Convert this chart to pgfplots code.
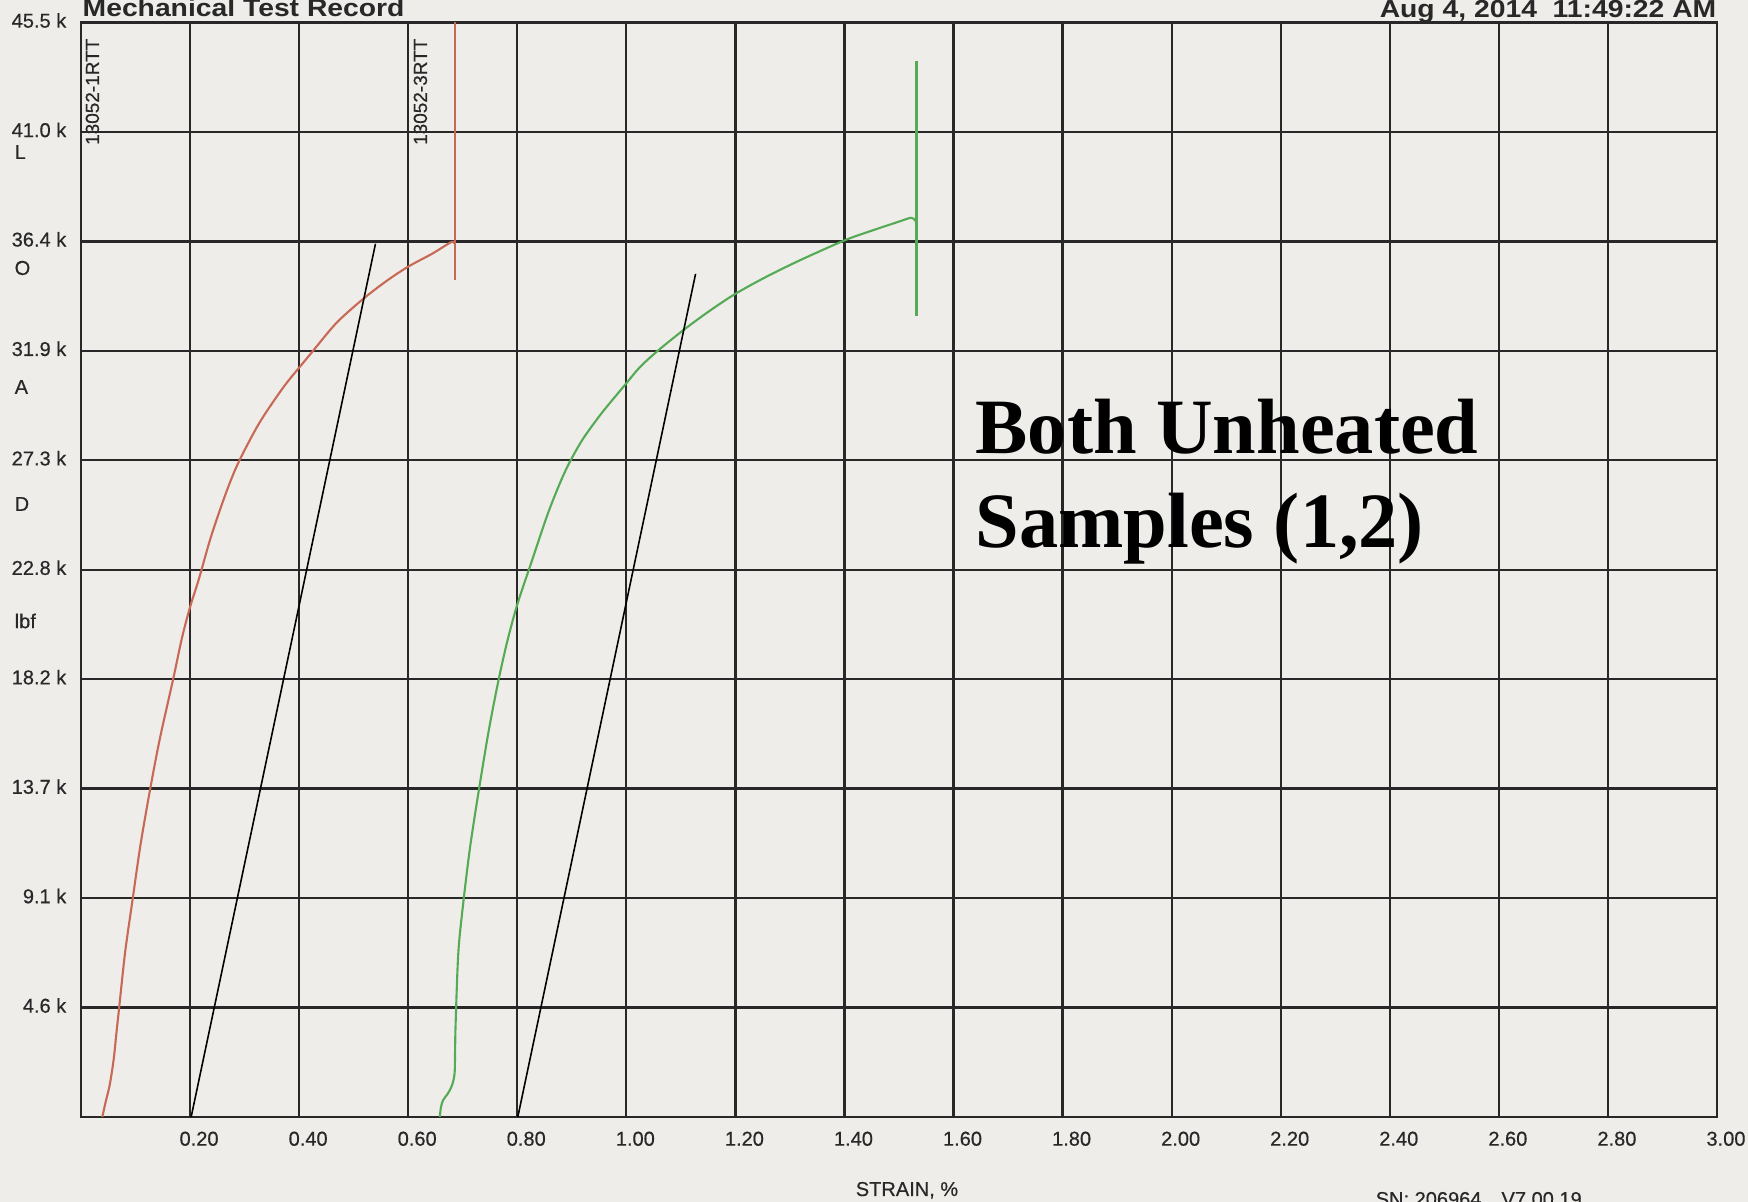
\documentclass[border=0pt]{standalone}
\usepackage{fontspec}
\setmainfont{Liberation Sans}
\newfontfamily\tickfont[FakeBold=0.5]{Liberation Sans}
\newfontfamily\hdrfont[FakeStretch=1.15]{Liberation Sans}
\newfontfamily\notefont{Liberation Serif}
\usepackage{pgfplots}
\pgfplotsset{compat=1.18}
\definecolor{paper}{RGB}{239,237,234}
\definecolor{gridc}{RGB}{40,40,40}
\definecolor{redc}{RGB}{200,105,85}
\definecolor{greenc}{RGB}{85,170,85}
\begin{document}
\begin{tikzpicture}
\path[use as bounding box, fill=paper] (-8.1mm,-8.5mm) rectangle (166.7mm,111.7mm);
\begin{axis}[
  at={(0,0)}, anchor=south west,
  scale only axis, width=163.6mm, height=109.45mm,
  xmin=0, xmax=3, ymin=0, ymax=45.5,
  xtick={0.2,0.4,0.6,0.8,1.0,1.2,1.4,1.6,1.8,2.0,2.2,2.4,2.6,2.8,3.0},
  xticklabels={0.20,0.40,0.60,0.80,1.00,1.20,1.40,1.60,1.80,2.00,2.20,2.40,2.60,2.80,3.00},
  ytick={4.55,9.1,13.65,18.2,22.75,27.3,31.85,36.4,40.95,45.5},
  yticklabels={4.6 k,9.1 k,13.7 k,18.2 k,22.8 k,27.3 k,31.9 k,36.4 k,41.0 k,45.5 k},
  major tick length=0pt,
  grid=major,
  major grid style={line width=0.65pt, color=gridc},
  axis line style={line width=0.75pt, color=gridc},
  ticklabel style={font=\tickfont\fontsize{5.7}{6}\selectfont, inner sep=0pt, color=gridc},
  xticklabel style={anchor=north, yshift=-1.4mm, xshift=0.9mm},
  yticklabel style={anchor=east, xshift=-1.4mm, yshift=0.2mm},
]
% sample 1 (red)
\addplot[redc, line width=0.6pt, smooth, tension=0.5] coordinates {
(0.039,0) (0.046,0.7) (0.053,1.37) (0.060,2.41) (0.065,3.5) (0.070,4.55)
(0.081,6.86) (0.095,9.1) (0.109,11.3) (0.127,13.65) (0.145,15.77) (0.169,18.2)
(0.185,19.9) (0.200,21.2) (0.216,22.35) (0.2385,24.13) (0.266,25.95) (0.289,27.22)
(0.327,28.85) (0.370,30.3) (0.400,31.15) (0.422,31.75) (0.468,33.0) (0.517,34.0)
(0.560,34.75) (0.600,35.35) (0.645,35.9) (0.679,36.37) (0.685,36.3)
};
\addplot[redc, line width=0.6pt] coordinates {(0.685,34.8) (0.685,45.5)};
% sample 2 (green)
\addplot[greenc, line width=0.6pt, smooth, tension=0.5] coordinates {
(0.658,0) (0.660,0.4) (0.664,0.7) (0.672,0.95) (0.680,1.3) (0.685,1.8)
(0.686,2.8) (0.687,3.9) (0.692,6.86) (0.702,9.1) (0.714,11.3) (0.730,13.65)
(0.748,16.1) (0.766,18.2) (0.782,19.8) (0.800,21.3) (0.828,23.2) (0.858,25.2)
(0.888,26.85) (0.918,28.1) (0.951,29.15) (0.976,29.85) (1.000,30.5) (1.024,31.15)
(1.056,31.82) (1.104,32.7) (1.152,33.5) (1.200,34.22) (1.256,34.92) (1.318,35.61)
(1.400,36.44) (1.452,36.86) (1.501,37.23) (1.522,37.38) (1.530,37.27) (1.532,37.1)
};
\addplot[greenc, line width=0.6pt] coordinates {(1.532,33.3) (1.532,43.9)};
% modulus offset lines
\addplot[black, line width=0.45pt] coordinates {(0.202,0) (0.540,36.3)};
\addplot[black, line width=0.45pt] coordinates {(0.801,0) (1.127,35.05)};
\end{axis}
% header
\node[anchor=base west, inner sep=0pt, font=\hdrfont\bfseries\fontsize{7}{8}\selectfont, color=gridc] at (0.1mm,110.0mm) {Mechanical Test Record};
\node[anchor=base east, inner sep=0pt, font=\hdrfont\bfseries\fontsize{7}{8}\selectfont, color=gridc] at (163.6mm,109.9mm) {Aug 4, 2014\ \ 11:49:22 AM};
% rotated sample labels
\node[rotate=90, anchor=north east, inner sep=0pt, font=\tickfont\fontsize{5.4}{6}\selectfont, color=gridc] at (0.4mm,107.9mm) {13052-1RTT};
\node[rotate=90, anchor=north east, inner sep=0pt, font=\tickfont\fontsize{5.4}{6}\selectfont, color=gridc] at (33.2mm,107.9mm) {13052-3RTT};
% LOAD lbf letters
\begin{scope}[every node/.style={anchor=west, inner sep=0pt, font=\tickfont\fontsize{5.7}{6}\selectfont, color=gridc}]
\node at (-6.7mm,96.5mm) {L};
\node at (-6.7mm,84.9mm) {O};
\node at (-6.7mm,73.0mm) {A};
\node at (-6.7mm,61.3mm) {D};
\node at (-6.7mm,49.6mm) {lbf};
\end{scope}
% axis title and footer
\node[anchor=base, inner sep=0pt, font=\tickfont\fontsize{5.7}{6}\selectfont, color=gridc] at (82.6mm,-7.9mm) {STRAIN, \%};
\node[anchor=base west, inner sep=0pt, font=\tickfont\fontsize{5.7}{6}\selectfont, color=gridc] at (129.4mm,-8.9mm) {SN: 206964\quad V7.00.19};
% annotation
\node[anchor=base west, inner sep=0pt, font=\notefont\bfseries\fontsize{22.3}{26}\selectfont] at (89.4mm,66.3mm) {Both Unheated};
\node[anchor=base west, inner sep=0pt, font=\notefont\bfseries\fontsize{22.3}{26}\selectfont] at (89.4mm,56.9mm) {Samples (1,2)};
\end{tikzpicture}
\end{document}
